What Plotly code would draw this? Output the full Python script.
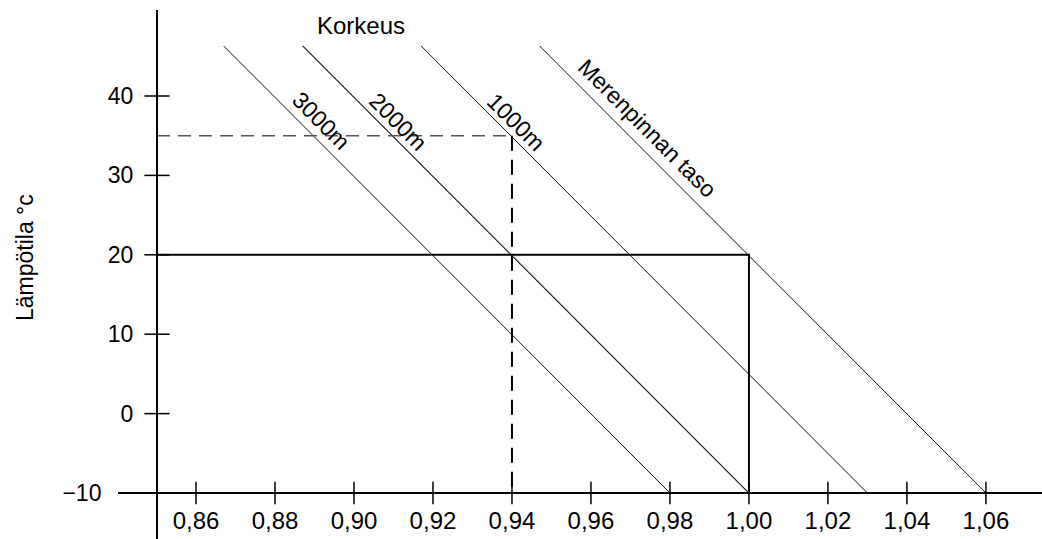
import numpy as np
import plotly.graph_objects as go

# Altitude lines: correction factor at the lowest and highest temperature shown
heights = ["Merenpinnan taso", "1000m", "2000m", "3000m"]
t_low, t_high = -10.0, 46.3
factor_at_low = [1.06, 1.03, 1.00, 0.98]
factor_at_high = [0.947, 0.917, 0.887, 0.867]
line_widths = [1.0, 1.0, 1.1, 1.0]

# Worked examples drawn as reading paths
example_solid = {"temp": 20, "factor": 1.00}
example_dashed = {"temp": 35, "factor": 0.94}

x_ticks = [0.86, 0.88, 0.90, 0.92, 0.94, 0.96, 0.98, 1.00, 1.02, 1.04, 1.06]
y_ticks = [-10, 0, 10, 20, 30, 40]
y_tick_text = ["\u221210\u00a0\u00a0\u00a0\u00a0\u00a0", "0", "10", "20", "30", "40"]

# Label placement along each line (temperature on the line, pixel offset)
label_temp = [34.4, 35.6, 35.6, 35.6]
label_shift = [(13, 12), (10, 9), (11, 9), (13, 10)]

W, H = 1042, 539
x_range = [0.84025, 1.0742]
y_range = [-15.79, 50.83]
x_domain = [118 / W, 1.0]
y_domain = [0.0, 1 - 10 / H]
y_axis_paper_x = 157 / W
x_axis_paper_y = 46 / H

# data x where the vertical axis sits
y_axis_xval = x_range[0] + (y_axis_paper_x - x_domain[0]) / (x_domain[1] - x_domain[0]) * (x_range[1] - x_range[0])

FONT = "Liberation Sans, Arial, sans-serif"
fig = go.Figure()

for name, xl, xh, lw in zip(heights, factor_at_low, factor_at_high, line_widths):
    fig.add_trace(go.Scatter(x=[xh, xl], y=[t_high, t_low], mode="lines",
                             line=dict(color="#111", width=lw), name=name,
                             showlegend=False, hoverinfo="skip"))

# solid reading path
fig.add_trace(go.Scatter(
    x=[y_axis_xval, example_solid["factor"], example_solid["factor"]],
    y=[example_solid["temp"], example_solid["temp"], t_low],
    mode="lines", line=dict(color="black", width=2), showlegend=False, hoverinfo="skip"))

# dashed reading path
fig.add_trace(go.Scatter(
    x=[y_axis_xval, example_dashed["factor"]],
    y=[example_dashed["temp"], example_dashed["temp"]],
    mode="lines", line=dict(color="#555", width=1.6, dash="13px,8px"),
    showlegend=False, hoverinfo="skip"))
fig.add_trace(go.Scatter(
    x=[example_dashed["factor"], example_dashed["factor"]],
    y=[example_dashed["temp"], t_low],
    mode="lines", line=dict(color="black", width=2, dash="15px,9px"),
    showlegend=False, hoverinfo="skip"))

# crossing tick marks
fig.add_trace(go.Scatter(x=x_ticks, y=[t_low] * len(x_ticks), mode="markers",
                         marker=dict(symbol="line-ns", size=16, line=dict(color="black", width=1.5)),
                         cliponaxis=False, showlegend=False, hoverinfo="skip"))
fig.add_trace(go.Scatter(x=[y_axis_xval] * len(y_ticks), y=y_ticks, mode="markers",
                         marker=dict(symbol="line-ew", size=18, line=dict(color="black", width=1.5)),
                         cliponaxis=False, showlegend=False, hoverinfo="skip"))

# labels along the lines
for name, xl, xh, t, (sx, sy) in zip(heights, factor_at_low, factor_at_high, label_temp, label_shift):
    xp = np.interp(t, [t_low, t_high], [xl, xh])
    fig.add_annotation(x=xp, y=t, text=name, textangle=45, showarrow=False,
                       xshift=sx, yshift=sy, font=dict(family=FONT, size=23, color="black"))

fig.add_annotation(x=0.9018, y=48.94, text="Korkeus", showarrow=False,
                   font=dict(family=FONT, size=24, color="black"))
fig.add_annotation(xref="paper", yref="paper", x=10 / W, y=(H - 258) / H,
                   text="Lämpötila °c", textangle=-90, showarrow=False,
                   font=dict(family=FONT, size=23, color="black"))

fig.update_layout(
    width=W, height=H, margin=dict(l=0, r=0, t=0, b=0),
    paper_bgcolor="white", plot_bgcolor="white", separators=", ",
    xaxis=dict(domain=x_domain, range=x_range, anchor="free", position=x_axis_paper_y,
               showline=True, linewidth=2, linecolor="black", showgrid=False, zeroline=False,
               tickvals=x_ticks, tickformat=".2f", ticks="outside", ticklen=6,
               tickcolor="rgba(0,0,0,0)", tickfont=dict(family=FONT, size=24, color="black")),
    yaxis=dict(domain=y_domain, range=y_range, anchor="free", position=y_axis_paper_x,
               showline=True, linewidth=2, linecolor="black", showgrid=False, zeroline=False,
               tickvals=y_ticks, ticktext=y_tick_text, ticks="outside", ticklen=18,
               tickcolor="rgba(0,0,0,0)", tickfont=dict(family=FONT, size=23, color="black")),
)

fig.write_html("out.html")
